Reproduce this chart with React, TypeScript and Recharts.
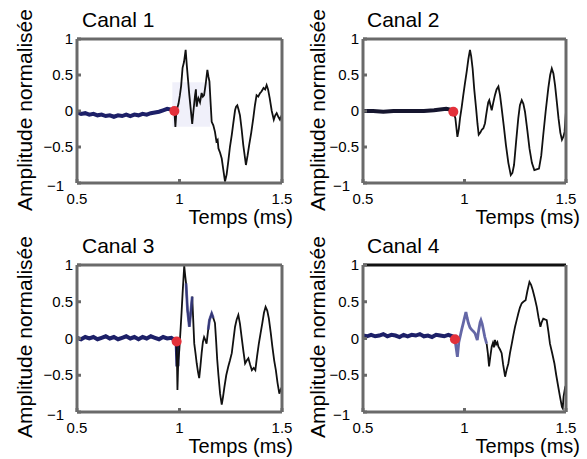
import React from 'react';
import { LineChart, Line, XAxis, YAxis, ReferenceDot, ReferenceArea } from 'recharts';

type Pt = { t: number; v: number };
const toPts = (arr: number[][]): Pt[] => arr.map(([t, v]) => ({ t, v }));

const xTicks = [0.5, 1, 1.5];
const yTicks = [-1, -0.5, 0, 0.5, 1];
const titles = ['Canal 1', 'Canal 2', 'Canal 3', 'Canal 4'];
const yLabel = 'Amplitude normalisée';
const xLabel = 'Temps (ms)';

// Canal 1
const canal1Pre = [[0.5, -0.02], [0.52, -0.04], [0.54, -0.03], [0.56, -0.05], [0.58, -0.04], [0.6, -0.06], [0.62, -0.05], [0.64, -0.07], [0.66, -0.06], [0.68, -0.08], [0.7, -0.06], [0.72, -0.07], [0.74, -0.05], [0.76, -0.07], [0.78, -0.05], [0.8, -0.06], [0.82, -0.04], [0.84, -0.05], [0.86, -0.03], [0.88, -0.02], [0.9, -0.01], [0.92, 0.01], [0.94, 0.03], [0.96, 0.02], [0.975, 0.0]];
const canal1Post = [[0.975, 0.0], [0.98, -0.22], [0.985, 0.0], [0.995, 0.1], [1.002, 0.22], [1.008, 0.35], [1.015, 0.6], [1.022, 0.68], [1.03, 0.85], [1.036, 0.62], [1.042, 0.42], [1.048, 0.22], [1.055, 0.02], [1.062, -0.18], [1.068, 0.0], [1.076, 0.22], [1.08, 0.3], [1.084, 0.06], [1.088, 0.14], [1.092, 0.18], [1.1, 0.12], [1.108, 0.25], [1.114, 0.2], [1.12, 0.22], [1.128, 0.38], [1.136, 0.57], [1.141, 0.48], [1.146, 0.41], [1.152, 0.1], [1.157, -0.15], [1.165, -0.2], [1.173, -0.29], [1.18, -0.42], [1.186, -0.4], [1.19, -0.52], [1.198, -0.58], [1.206, -0.66], [1.214, -0.82], [1.222, -0.98], [1.23, -0.88], [1.238, -0.7], [1.246, -0.5], [1.255, -0.33], [1.262, -0.18], [1.271, 0.01], [1.276, 0.06], [1.282, 0.08], [1.288, 0.02], [1.295, -0.06], [1.303, -0.25], [1.311, -0.47], [1.318, -0.62], [1.324, -0.75], [1.332, -0.62], [1.34, -0.47], [1.35, -0.3], [1.36, -0.1], [1.368, 0.08], [1.376, 0.22], [1.384, 0.2], [1.393, 0.25], [1.4, 0.27], [1.41, 0.32], [1.418, 0.3], [1.425, 0.36], [1.432, 0.3], [1.44, 0.18], [1.45, 0.0], [1.46, -0.12], [1.467, -0.06], [1.474, -0.03], [1.482, -0.08], [1.49, -0.12], [1.5, -0.05]];
const canal1Onset = [0.975, 0.0];

// Canal 2
const canal2Pre = [[0.5, 0.0], [0.55, 0.0], [0.6, -0.01], [0.65, 0.0], [0.7, 0.0], [0.75, 0.0], [0.8, 0.0], [0.85, 0.01], [0.88, 0.02], [0.91, 0.03], [0.93, 0.02], [0.945, -0.01]];
const canal2Post = [[0.945, -0.01], [0.955, -0.1], [0.965, -0.36], [0.972, -0.25], [0.978, -0.1], [0.986, 0.05], [0.994, 0.22], [1.002, 0.38], [1.011, 0.55], [1.019, 0.72], [1.027, 0.85], [1.033, 0.76], [1.04, 0.59], [1.048, 0.3], [1.057, 0.04], [1.064, -0.18], [1.07, -0.33], [1.078, -0.3], [1.085, -0.26], [1.093, -0.24], [1.101, -0.17], [1.107, -0.05], [1.112, 0.04], [1.117, 0.12], [1.122, 0.15], [1.128, 0.08], [1.134, 0.01], [1.142, 0.12], [1.15, 0.22], [1.158, 0.3], [1.167, 0.34], [1.175, 0.22], [1.183, 0.04], [1.194, -0.22], [1.204, -0.47], [1.216, -0.72], [1.228, -0.89], [1.236, -0.86], [1.244, -0.75], [1.255, -0.4], [1.265, -0.1], [1.273, 0.08], [1.282, 0.15], [1.29, 0.1], [1.298, -0.01], [1.31, -0.28], [1.32, -0.52], [1.332, -0.72], [1.344, -0.82], [1.355, -0.81], [1.367, -0.8], [1.378, -0.62], [1.388, -0.33], [1.4, 0.0], [1.413, 0.32], [1.422, 0.5], [1.43, 0.59], [1.438, 0.52], [1.446, 0.36], [1.455, 0.12], [1.463, -0.1], [1.472, -0.3], [1.48, -0.4], [1.488, -0.35], [1.493, -0.29], [1.5, 0.0]];
const canal2Onset = [0.945, -0.01];

// Canal 3
const canal3Pre = [[0.5, 0.01], [0.52, -0.01], [0.54, 0.02], [0.56, 0.0], [0.58, 0.02], [0.6, -0.01], [0.62, 0.01], [0.64, 0.03], [0.66, 0.0], [0.68, 0.02], [0.7, -0.01], [0.72, 0.01], [0.74, 0.03], [0.76, 0.0], [0.78, 0.02], [0.8, -0.01], [0.82, 0.02], [0.84, 0.0], [0.86, 0.03], [0.88, 0.01], [0.9, -0.01], [0.92, 0.02], [0.94, 0.0], [0.96, 0.01], [0.986, -0.04], [0.99, -0.38], [0.992, -0.1]];
const canal3Post = [[0.986, -0.04], [0.99, -0.7], [0.994, -0.3], [0.999, -0.16], [1.006, 0.16], [1.01, 0.35], [1.015, 0.61], [1.019, 0.8], [1.023, 0.99], [1.028, 0.85], [1.032, 0.75], [1.039, 0.39], [1.048, 0.16], [1.056, 0.39], [1.062, 0.57], [1.067, 0.25], [1.072, -0.07], [1.078, -0.2], [1.084, -0.34], [1.09, -0.45], [1.096, -0.54], [1.102, -0.38], [1.108, -0.2], [1.114, -0.05], [1.12, 0.02], [1.126, -0.02], [1.132, -0.07], [1.14, 0.12], [1.146, 0.25], [1.152, 0.3], [1.157, 0.34], [1.165, 0.28], [1.173, 0.21], [1.179, -0.05], [1.184, -0.29], [1.19, -0.5], [1.198, -0.75], [1.206, -0.9], [1.212, -0.8], [1.219, -0.66], [1.228, -0.5], [1.238, -0.38], [1.246, -0.3], [1.255, -0.2], [1.263, -0.02], [1.271, 0.16], [1.279, 0.26], [1.287, 0.32], [1.295, 0.2], [1.303, 0.02], [1.312, -0.18], [1.32, -0.34], [1.328, -0.3], [1.336, -0.27], [1.345, -0.36], [1.353, -0.43], [1.362, -0.4], [1.37, -0.43], [1.378, -0.25], [1.387, -0.07], [1.396, 0.08], [1.404, 0.21], [1.412, 0.35], [1.42, 0.43], [1.428, 0.38], [1.436, 0.27], [1.445, 0.08], [1.453, -0.11], [1.462, -0.3], [1.47, -0.43], [1.478, -0.6], [1.487, -0.75], [1.493, -0.7], [1.5, -0.66]];
const canal3BlueA = [[1.032, 0.75], [1.039, 0.39], [1.048, 0.16], [1.056, 0.39], [1.062, 0.57]];
const canal3BlueB = [[1.14, 0.12], [1.146, 0.25], [1.152, 0.3], [1.157, 0.34], [1.165, 0.28]];
const canal3Onset = [0.986, -0.04];

// Canal 4
const canal4Pre = [[0.5, 0.04], [0.52, 0.03], [0.54, 0.05], [0.56, 0.03], [0.58, 0.04], [0.6, 0.06], [0.62, 0.03], [0.64, 0.05], [0.66, 0.04], [0.68, 0.02], [0.7, 0.05], [0.72, 0.03], [0.74, 0.05], [0.76, 0.04], [0.78, 0.06], [0.8, 0.03], [0.82, 0.04], [0.84, 0.02], [0.86, 0.05], [0.88, 0.04], [0.9, 0.03], [0.92, 0.05], [0.94, 0.03], [0.953, -0.01]];
const canal4Mid = [[0.953, -0.01], [0.965, -0.25], [0.972, -0.05], [0.978, 0.02], [0.986, 0.12], [0.994, 0.21], [1.0, 0.28], [1.007, 0.36], [1.013, 0.28], [1.019, 0.21], [1.027, 0.15], [1.035, 0.12], [1.043, 0.1], [1.052, 0.07], [1.058, 0.02], [1.063, -0.02], [1.068, 0.08], [1.073, 0.16], [1.077, 0.22], [1.081, 0.25], [1.087, 0.2], [1.093, 0.12], [1.1, 0.02], [1.109, -0.07]];
const canal4Post = [[1.109, -0.07], [1.115, -0.2], [1.121, -0.38], [1.127, -0.25], [1.134, -0.11], [1.14, -0.06], [1.145, -0.12], [1.15, -0.02], [1.156, -0.08], [1.162, -0.05], [1.167, -0.11], [1.175, -0.15], [1.183, -0.2], [1.19, -0.35], [1.196, -0.45], [1.2, -0.52], [1.208, -0.42], [1.216, -0.34], [1.224, -0.2], [1.233, -0.07], [1.241, 0.05], [1.249, 0.16], [1.257, 0.25], [1.265, 0.34], [1.273, 0.42], [1.282, 0.48], [1.29, 0.5], [1.301, 0.52], [1.31, 0.65], [1.32, 0.77], [1.328, 0.73], [1.336, 0.66], [1.346, 0.55], [1.356, 0.43], [1.365, 0.28], [1.374, 0.16], [1.38, 0.22], [1.388, 0.27], [1.396, 0.26], [1.405, 0.25], [1.413, 0.1], [1.421, -0.07], [1.432, -0.2], [1.443, -0.34], [1.452, -0.5], [1.462, -0.66], [1.471, -0.8], [1.48, -0.93], [1.484, -0.95], [1.488, -0.79], [1.496, -0.66], [1.5, -0.64]];
const canal4Onset = [0.953, -0.01];

const NAVY = '#1d2068';
const MID_NAVY = '#3d4190';
const BLACK = '#111111';
const RED = '#e3303a';
const FRAME = '#6a6a6a';
const FONT = '"Liberation Sans", Arial, sans-serif';

const fmt = (v: number) => String(v).replace('-', '\u2212');

const YTick = (props: any) => {
  const { x, y, payload } = props;
  const low = payload.value === -1;
  return (
    <text x={x + (low ? -9 : 0)} y={y + (low ? 3 : 0)} dy={5} textAnchor="end" fontSize={15} fontFamily={FONT} fill="#000">
      {fmt(payload.value)}
    </text>
  );
};

const XTick = (props: any) => {
  const { x, y, payload } = props;
  return (
    <text x={x} y={y} dy={10} textAnchor="middle" fontSize={15} fontFamily={FONT} fill="#000">
      {fmt(payload.value)}
    </text>
  );
};

interface Panel {
  pre: number[][];
  preColor: string;
  post: number[][];
  blue: number[][][];
  onset: number[];
  shade?: { x1: number; x2: number; y1: number; y2: number };
  left: number;
  top: number;
  width: number;
  height: number;
  yAxisWidth: number;
  xAxisHeight: number;
  marginTop: number;
  marginRight: number;
  topStroke: { stroke: string; strokeWidth: number };
}

const frameLine = { stroke: FRAME, strokeWidth: 3 };
const heavyTop = { stroke: '#111111', strokeWidth: 3 };

const panels: Panel[] = [
  { pre: canal1Pre, preColor: NAVY, post: canal1Post, blue: [], onset: canal1Onset, shade: { x1: 0.965, x2: 1.15, y1: -0.22, y2: 0.4 },
    left: 0, top: 0, width: 293, height: 229, yAxisWidth: 77, xAxisHeight: 46, marginTop: 38, marginRight: 10, topStroke: frameLine },
  { pre: canal2Pre, preColor: '#15152e', post: canal2Post, blue: [], onset: canal2Onset,
    left: 293, top: 0, width: 294, height: 229, yAxisWidth: 70, xAxisHeight: 46, marginTop: 38, marginRight: 20, topStroke: frameLine },
  { pre: canal3Pre, preColor: NAVY, post: canal3Post, blue: [canal3BlueA, canal3BlueB], onset: canal3Onset,
    left: 0, top: 229, width: 293, height: 230, yAxisWidth: 77, xAxisHeight: 47, marginTop: 35, marginRight: 10, topStroke: frameLine },
  { pre: canal4Pre, preColor: NAVY, post: canal4Post, blue: [canal4Mid], onset: canal4Onset,
    left: 293, top: 229, width: 294, height: 230, yAxisWidth: 70, xAxisHeight: 47, marginTop: 35, marginRight: 20, topStroke: heavyTop },
];

// text anchors in figure coordinates
const labelPos = [
  { title: [82, 27], ylab: [32, 110], xlab: [293, 224] },
  { title: [367, 27], ylab: [325, 110], xlab: [580, 224] },
  { title: [82, 253], ylab: [32, 337], xlab: [293, 453] },
  { title: [367, 253], ylab: [325, 337], xlab: [580, 453] },
];

const PanelChart: React.FC<{ p: Panel }> = ({ p }) => (
  <div style={{ position: 'absolute', left: p.left, top: p.top }}>
    <LineChart width={p.width} height={p.height} margin={{ top: p.marginTop, right: p.marginRight, bottom: 0, left: 0 }}>
      {p.shade && (
        <ReferenceArea xAxisId="b" yAxisId="l" x1={p.shade.x1} x2={p.shade.x2} y1={p.shade.y1} y2={p.shade.y2}
          fill="#f0f0fa" fillOpacity={1} stroke="none" />
      )}
      <XAxis xAxisId="b" dataKey="t" type="number" domain={[0.5, 1.5]} ticks={xTicks} allowDataOverflow
        height={p.xAxisHeight} tickSize={-4} tickMargin={15} tick={<XTick />} axisLine={frameLine} tickLine={frameLine} />
      <XAxis xAxisId="t" orientation="top" dataKey="t" type="number" domain={[0.5, 1.5]} ticks={xTicks} allowDataOverflow
        height={1} tickSize={-4} tick={false} axisLine={p.topStroke} tickLine={frameLine} />
      <YAxis yAxisId="l" type="number" domain={[-1, 1]} ticks={yTicks} allowDataOverflow
        width={p.yAxisWidth} tickSize={-4} tickMargin={8} tick={<YTick />} axisLine={frameLine} tickLine={frameLine} />
      <YAxis yAxisId="r" orientation="right" type="number" domain={[-1, 1]} ticks={yTicks} allowDataOverflow
        width={1} tickSize={-4} tick={false} axisLine={frameLine} tickLine={frameLine} />
      <Line xAxisId="b" yAxisId="l" data={toPts(p.pre)} dataKey="v" type="linear" stroke={p.preColor} strokeWidth={4}
        dot={false} isAnimationActive={false} />
      <Line xAxisId="b" yAxisId="l" data={toPts(p.post)} dataKey="v" type="linear" stroke={BLACK} strokeWidth={1.8}
        dot={false} isAnimationActive={false} />
      {p.blue.map((seg, i) => (
        <Line key={i} xAxisId="b" yAxisId="l" data={toPts(seg)} dataKey="v" type="linear" stroke={MID_NAVY} strokeWidth={2.8}
          strokeOpacity={0.8} dot={false} isAnimationActive={false} />
      ))}
      <ReferenceDot xAxisId="b" yAxisId="l" x={p.onset[0]} y={p.onset[1]} r={5} fill={RED} stroke="none" />
    </LineChart>
  </div>
);

export default function App() {
  return (
    <div style={{ position: 'absolute', left: 0, top: 0, width: 587, height: 459, background: '#fff', overflow: 'hidden' }}>
      {panels.map((p, i) => (
        <PanelChart key={i} p={p} />
      ))}
      <svg width={587} height={459} style={{ position: 'absolute', left: 0, top: 0, pointerEvents: 'none' }}>
        {labelPos.map((lp, i) => (
          <g key={i} fontFamily={FONT} fill="#000">
            <text x={lp.title[0]} y={lp.title[1]} fontSize={21}>{titles[i]}</text>
            <text transform={`translate(${lp.ylab[0]},${lp.ylab[1]}) rotate(-90)`} textAnchor="middle" fontSize={21}>{yLabel}</text>
            <text x={lp.xlab[0]} y={lp.xlab[1]} textAnchor="end" fontSize={20}>{xLabel}</text>
          </g>
        ))}
      </svg>
    </div>
  );
}
